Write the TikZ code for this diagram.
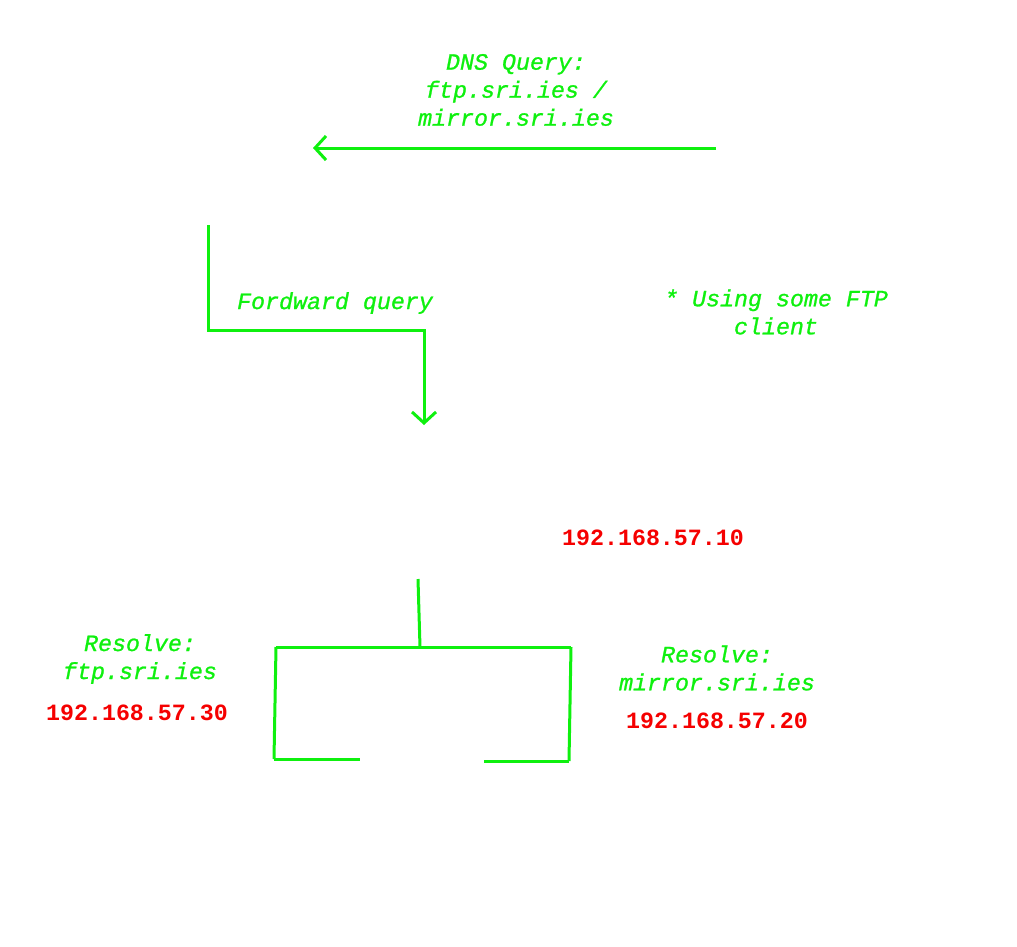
\documentclass[tikz,border=0pt]{standalone}
\usepackage{fontspec}
\setmonofont{Liberation Mono}
\newfontfamily\lblfont{Liberation Mono}[UprightFont=*-Italic,FakeBold=1]
\usetikzlibrary{arrows.meta}
\definecolor{lime}{RGB}{15,240,15}
\definecolor{ipred}{RGB}{245,0,0}
\tikzset{
  lbl/.style={text=lime, align=center, inner sep=0pt,
    font=\fontsize{23.3}{28}\selectfont\lblfont},
  ip/.style={text=ipred, align=center, inner sep=0pt,
    font=\fontsize{23.3}{28}\selectfont\ttfamily\bfseries},
  wire/.style={draw=lime, line width=3pt},
  arr/.style={wire, -{Straight Barb[length=11pt,width=24pt,line width=3pt]}}
}
\begin{document}
\begin{tikzpicture}[x=1pt,y=-1pt]
\useasboundingbox (0,0) rectangle (1017,946);
% top arrow
\coordinate (qs) at (716,148);
\coordinate (qe) at (313,148);
\draw[arr] (qs) -- (qe);
\node[lbl] (dnsq) at (516,90) {DNS Query:\\ftp.sri.ies /\\mirror.sri.ies};
% forward query elbow
\coordinate (fs) at (208,225);
\coordinate (fc1) at (208,330);
\coordinate (fc2) at (424,330);
\coordinate (fe) at (424,425);
\draw[arr, line join=miter] (fs) -- (fc1) -- (fc2) -- (fe);
\node[lbl] (fwd) at (335,303) {Fordward query};
\node[lbl] (ftpc) at (776,312) {* Using some FTP\\client};
\node[ip] (ip10) at (653,538) {192.168.57.10};
% tree
\coordinate (ts) at (418,579);
\coordinate (tj) at (420,647);
\coordinate (tl) at (276,647);
\coordinate (tr) at (571,647);
\coordinate (tlb) at (274,759);
\coordinate (tle) at (360,759);
\coordinate (trb) at (569,761);
\coordinate (tre) at (484,761);
\draw[wire] (ts) -- (tj);
\draw[wire] (tl) -- (tr);
\draw[wire] (tl) -- (tlb);
\draw[wire] (tlb) -- (tle);
\draw[wire] (tr) -- (trb);
\draw[wire] (trb) -- (tre);
\node[lbl] (resl) at (140,659) {Resolve:\\ftp.sri.ies};
\node[ip] (ip30) at (137,713) {192.168.57.30};
\node[lbl] (resr) at (717,668) {Resolve:\\mirror.sri.ies};
\node[ip] (ip20) at (717,721) {192.168.57.20};
\end{tikzpicture}
\end{document}
